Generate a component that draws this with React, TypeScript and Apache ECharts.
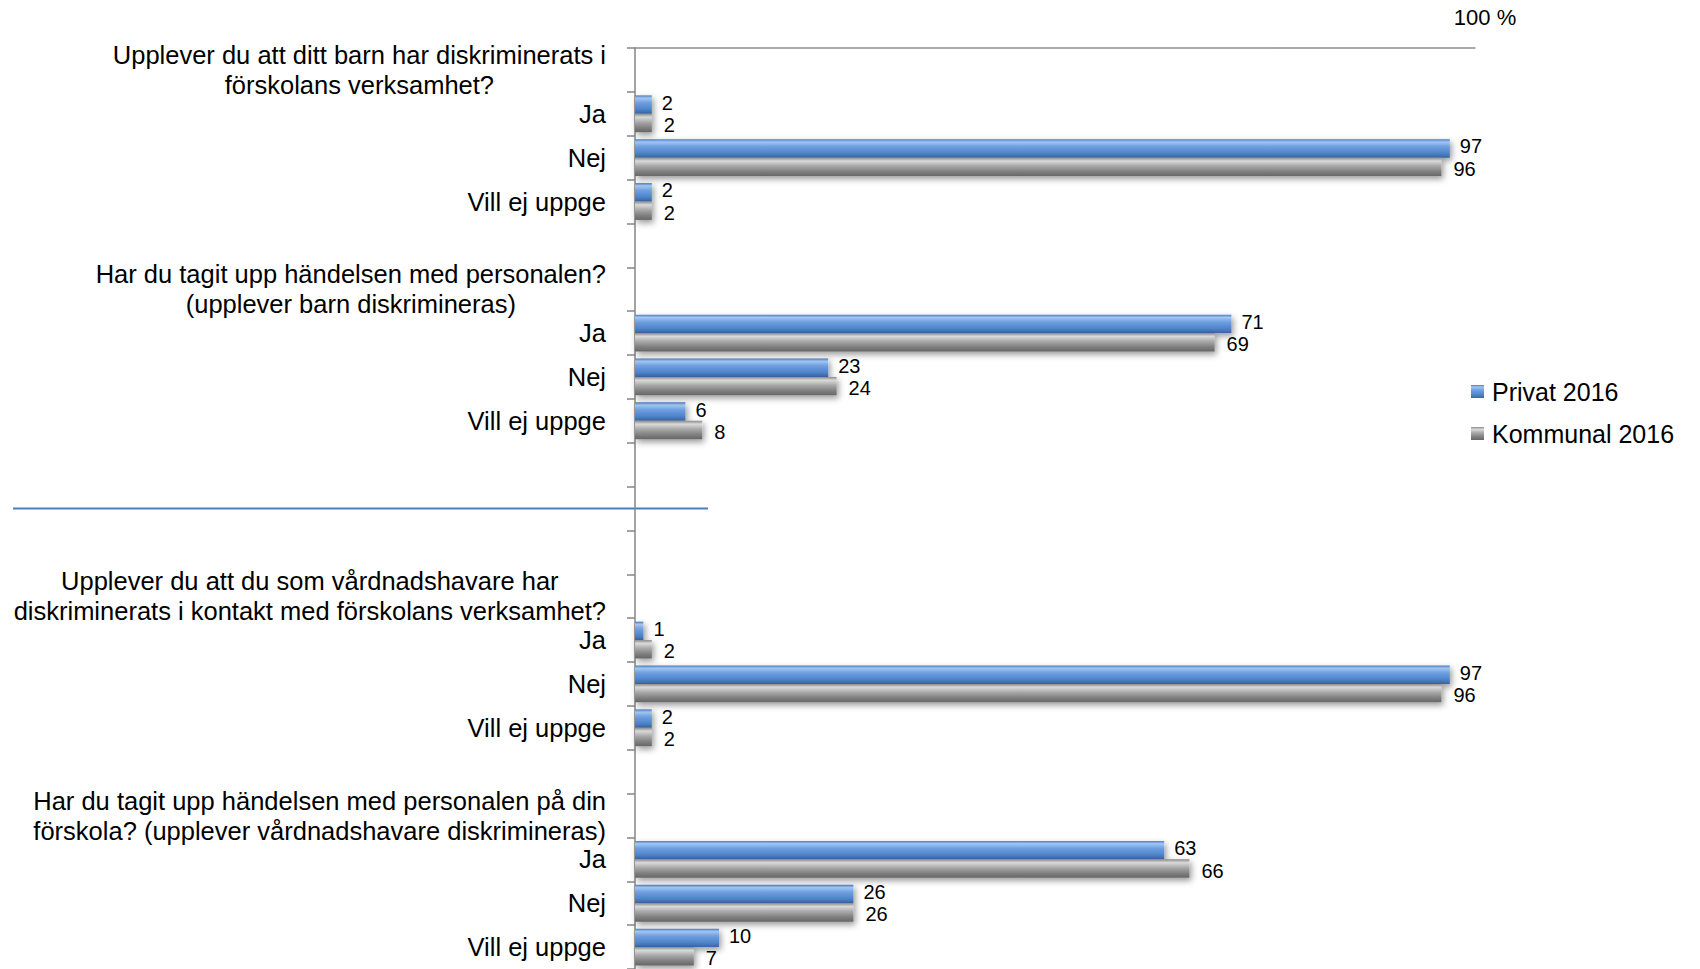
import { useEffect, useRef } from 'react';
import * as echarts from 'echarts';

const rows: string[] = [
  'Upplever du att ditt barn har diskriminerats i\nförskolans verksamhet?',
  'Ja',
  'Nej',
  'Vill ej uppge',
  '',
  'Har du tagit upp händelsen med personalen?\n(upplever barn diskrimineras)',
  'Ja',
  'Nej',
  'Vill ej uppge',
  '',
  '',
  '',
  'Upplever du att du som vårdnadshavare har\ndiskriminerats i kontakt med förskolans verksamhet?',
  'Ja',
  'Nej',
  'Vill ej uppge',
  '',
  'Har du tagit upp händelsen med personalen på din\nförskola? (upplever vårdnadshavare diskrimineras)',
  'Ja',
  'Nej',
  'Vill ej uppge',
];

const privat2016: (number | null)[] = [null, 2, 97, 2, null, null, 71, 23, 6, null, null, null, null, 1, 97, 2, null, null, 63, 26, 10];
const kommunal2016: (number | null)[] = [null, 2, 96, 2, null, null, 69, 24, 8, null, null, null, null, 2, 96, 2, null, null, 66, 26, 7];
const seriesNames = ['Privat 2016', 'Kommunal 2016'];
const axisMax = 100;
const axisMaxLabel = '100 %';
const separatorRow = 10;

const FONT = '"Liberation Sans", Arial, sans-serif';

const blueGrad = new echarts.graphic.LinearGradient(0, 0, 0, 1, [
  { offset: 0, color: '#4a7cc0' },
  { offset: 0.15, color: '#a2c6f2' },
  { offset: 0.4, color: '#6e9fe0' },
  { offset: 0.75, color: '#4f84cb' },
  { offset: 1, color: '#3a66a2' },
]);
const grayGrad = new echarts.graphic.LinearGradient(0, 0, 0, 1, [
  { offset: 0, color: '#8a8a8a' },
  { offset: 0.18, color: '#dadada' },
  { offset: 0.45, color: '#a9a9a9' },
  { offset: 0.75, color: '#808080' },
  { offset: 1, color: '#666666' },
]);

export default function App() {
  const ref = useRef<HTMLDivElement>(null);
  useEffect(() => {
    if (!ref.current) return;
    const chart = echarts.init(ref.current, undefined, { renderer: 'svg' });
    const mkSeries = (name: string, data: (number | null)[], color: any, dy: number, dist: number) => ({
      type: 'bar',
      name,
      data,
      barGap: '0%',
      barCategoryGap: '16%',
      itemStyle: {
        color,
        shadowBlur: 6,
        shadowColor: 'rgba(0,0,0,0.4)',
        shadowOffsetX: 2,
        shadowOffsetY: 3,
      },
      label: {
        show: true,
        position: 'right',
        distance: dist,
        offset: [0, dy],
        fontSize: 20,
        fontFamily: FONT,
        color: '#000',
        formatter: (p: any) => (p.value == null ? '' : String(p.value)),
      },
    });
    chart.setOption({
      animation: false,
      backgroundColor: '#ffffff',
      grid: { left: 635, right: 225, top: 48, bottom: 0, containLabel: false },
      legend: {
        orient: 'vertical',
        left: 1471,
        top: 379,
        padding: 0,
        icon: 'rect',
        itemWidth: 13,
        itemHeight: 13,
        itemGap: 17,
        textStyle: { fontSize: 25, fontFamily: FONT, color: '#000', padding: [0, 0, 0, 3] },
        data: seriesNames,
      },
      xAxis: {
        type: 'value',
        position: 'top',
        min: 0,
        max: axisMax,
        interval: axisMax,
        axisLine: { show: true, lineStyle: { color: '#8c8c8c', width: 1.5 } },
        axisTick: { show: false },
        splitLine: { show: false },
        axisLabel: {
          margin: 20,
          fontSize: 22,
          fontFamily: FONT,
          color: '#000',
          padding: [0, 0, 0, 20],
          formatter: (v: number) => (v === axisMax ? axisMaxLabel : ''),
        },
      },
      yAxis: {
        type: 'category',
        data: rows,
        inverse: true,
        axisLine: { lineStyle: { color: '#868686', width: 1.5 } },
        axisTick: { show: true, length: 8, interval: 0, lineStyle: { color: '#868686', width: 1.5 } },
        axisLabel: {
          interval: 0,
          margin: 29,
          fontSize: 25.5,
          fontFamily: FONT,
          color: '#000',
          lineHeight: 30,
          formatter: (v: string) =>
            v.indexOf('\n') >= 0 ? v.split('\n').map((l) => '{c|' + l + '}').join('\n') : v,
          rich: {
            c: { align: 'center', fontSize: 25.5, fontFamily: FONT, color: '#000', lineHeight: 30 },
          },
        },
      },
      series: [
        mkSeries(seriesNames[0], privat2016, blueGrad, -2, 10),
        mkSeries(seriesNames[1], kommunal2016, grayGrad, 2, 12),
      ],
    });
    const y = chart.convertToPixel({ yAxisIndex: 0 }, separatorRow) as unknown as number;
    chart.setOption({
      graphic: [
        {
          type: 'line',
          shape: { x1: 13, y1: y, x2: 708, y2: y },
          style: { stroke: '#4a7ebb', lineWidth: 2 },
        },
      ],
    });
    return () => chart.dispose();
  }, []);
  return <div ref={ref} style={{ position: 'absolute', left: 0, top: 0, width: 1700, height: 969 }} />;
}
